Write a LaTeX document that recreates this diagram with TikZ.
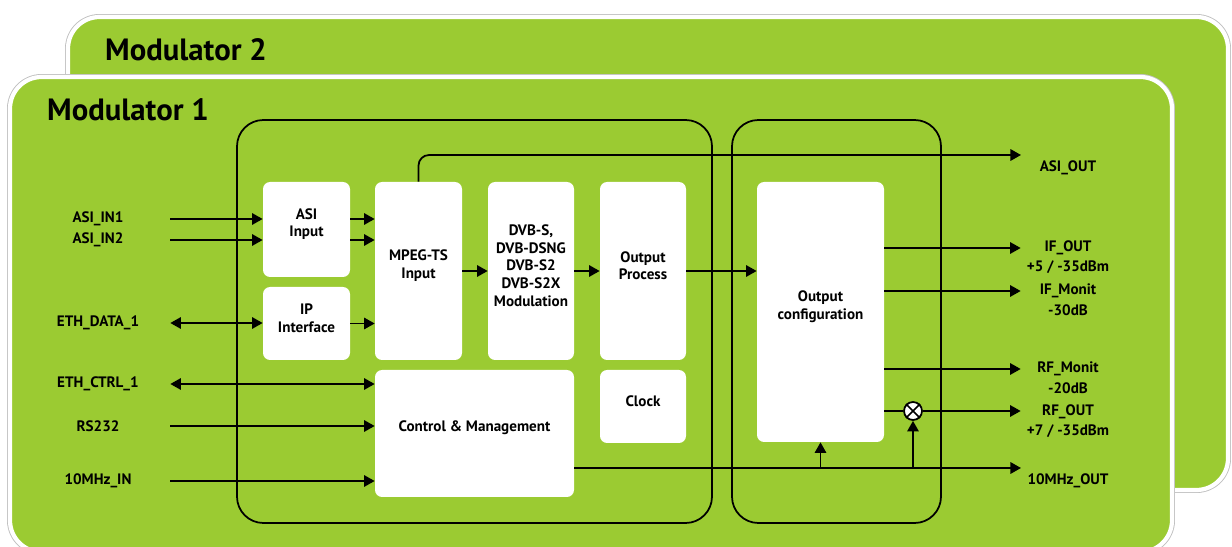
\documentclass[tikz,border=0pt]{standalone}
\usepackage{fontspec}
\setmainfont{PT Sans}
\usetikzlibrary{arrows.meta,fit}
\definecolor{modgreen}{RGB}{155,203,50}
\newcommand{\blk}[4]{\node(#1)[blk,fit={(#2) (#3)}]{#4}}
\newcommand{\inlbl}[3]{\node(#1)[inlbl] at (98,#2){#3}}

\begin{document}
\begin{tikzpicture}[
        x=0.02cm, y=-0.02cm,
        every node/.style={font=\bfseries\fontsize{8.6}{10}\selectfont},
        rim/.style={draw=black!25, line width=3.4pt, rounded corners=18pt},
        panel/.style={fill=modgreen, draw=white, line width=2.4pt, rounded corners=18pt},
        frame/.style={draw=black, line width=1pt, rounded corners=15pt},
        blk/.style={fill=white, rounded corners=4pt, inner sep=0pt, align=center},
        inlbl/.style={minimum width=2.88cm, inner sep=0pt},
        outlbl/.style={minimum width=1.88cm, inner sep=0pt, align=center},
        sig/.style={line width=1pt, -{Triangle[length=6pt,width=6.5pt]}},
        bisig/.style={line width=1pt, {Triangle[length=6pt,width=6.5pt]}-{Triangle[length=6pt,width=6.5pt]}},
        title/.style={font=\bfseries\fontsize{17.5}{20}\selectfont, anchor=west}
      ]
      \useasboundingbox (0,0) rectangle (1232,547);

      % Two stacked modulator panels
      \path[rim] (68,17) rectangle (1228,490);
      \path[panel] (68,17) rectangle (1228,490);
      \node[title] (mod2) at (99,50) {Modulator 2};
      \path[rim] (10,77) rectangle (1172,552);
      \path[panel] (10,77) rectangle (1172,552);
      \node[title] (mod1) at (41,110) {Modulator 1};

      % Processing and output frames
      \path[frame] (237,120) rectangle (712,523);
      \path[frame] (732,120) rectangle (941,523);

      % White blocks
      \blk{asiin}{263,182}{350,277}{ASI\\Input};
      \blk{ipif}{263,287}{350,360}{IP\\Interface};
      \blk{mpeg}{375,182}{462,360}{MPEG-TS\\Input};
      \blk{dvb}{488,182}{574,360}{DVB-S,\\DVB-DSNG\\DVB-S2\\DVB-S2X\\Modulation};
      \blk{outproc}{600,182}{686,360}{Output\\Process};
      \blk{cm}{375,370}{574,497}{Control \& Management};
      \blk{clock}{600,370}{686,443}{Clock};
      \blk{oc}{757,182}{884,442}{Output\\configuration};

      % Mixer
      \node(mix)[circle, draw, line width=1pt, fill=white, minimum size=0.36cm, inner sep=0pt] at (913,411) {};
      \draw[line width=1pt] (mix.north east) -- (mix.south west) (mix.north west) -- (mix.south east);

      % Inputs
      \inlbl{asiin1}{219}{ASI\_IN1};
      \inlbl{asiin2}{240}{ASI\_IN2};
      \inlbl{ethdata}{323}{ETH\_DATA\_1};
      \inlbl{ethctrl}{384}{ETH\_CTRL\_1};
      \inlbl{rs}{426}{RS232};
      \inlbl{tenin}{481}{10MHz\_IN};

      % Outputs
      \coordinate (asioutE) at (1021,155);
      \node(asiout)[outlbl] at (1068,168) {ASI\_OUT};
      \node(ifout)[outlbl] at (1068,248) {IF\_OUT};
      \node(ifoutlvl)[outlbl] at (1068,267) {+5 / -35dBm};
      \node(ifmon)[outlbl] at (1068,291) {IF\_Monit};
      \node(ifmonlvl)[outlbl] at (1068,310) {-30dB};
      \node(rfmon)[outlbl] at (1068,369) {RF\_Monit};
      \node(rfmonlvl)[outlbl] at (1068,388) {-20dB};
      \node(rfout)[outlbl] at (1068,412) {RF\_OUT};
      \node(rfoutlvl)[outlbl] at (1068,431) {+7 / -35dBm};
      \coordinate (tenoutE) at (1021,468);
      \node(tenout)[outlbl] at (1068,481) {10MHz\_OUT};

      % Connectors on the input side
      \draw[sig] (asiin1) -- (asiin.west |- asiin1);
      \draw[sig] (asiin2) -- (asiin.west |- asiin2);
      \draw[bisig] (ethdata) -- (ipif.west |- ethdata);
      \draw[sig] (asiin.east |- asiin1) -- (mpeg.west |- asiin1);
      \draw[sig] (asiin.east |- asiin2) -- (mpeg.west |- asiin2);
      \draw[sig] (ipif) -- (mpeg.west |- ipif);
      \draw[bisig] (ethctrl) -- (cm.west |- ethctrl);
      \draw[sig] (rs) -- (cm.west |- rs);
      \draw[sig] (tenin) -- (cm.west |- tenin);

      % Main chain
      \draw[sig] (mpeg.east |- dvb) -- (dvb);
      \draw[sig] (dvb) -- (outproc);
      \draw[sig] (outproc) -- (oc.west |- outproc);
      \draw[sig, rounded corners=6pt] (mpeg.north) |- (asioutE);

      % Connectors on the output side
      \draw[sig] (oc.east |- ifout) -- (ifout);
      \draw[sig] (oc.east |- ifmon) -- (ifmon);
      \draw[sig] (oc.east |- rfmon) -- (rfmon);
      \draw[line width=1pt] (oc.east |- mix) -- (mix);
      \draw[sig] (mix) -- (rfout.west |- mix);
      \draw[sig] (cm.east |- tenoutE) -- (tenoutE);
      \draw[sig] (oc.south |- tenoutE) -- (oc.south);
      \draw[sig] (mix.south |- tenoutE) -- (mix.south);
    \end{tikzpicture}
\end{document}
